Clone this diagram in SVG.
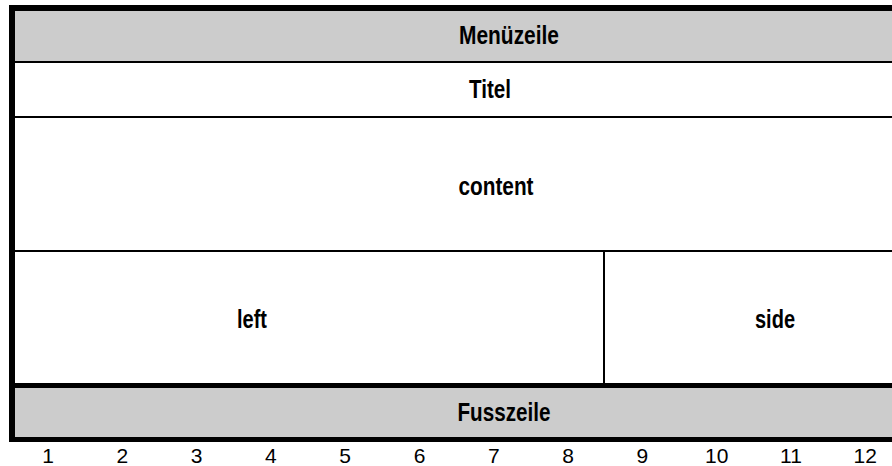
<svg xmlns="http://www.w3.org/2000/svg" width="892" height="466" viewBox="0 0 892 466">
<style>
.band{fill:#cccccc}
.cell{fill:#ffffff}
.rule{fill:#000000}
.lbl{font-family:"Liberation Sans",Arial,sans-serif;font-weight:bold;font-size:25px;fill:#000;text-anchor:middle}
.num{font-family:"Liberation Sans",Arial,sans-serif;font-size:21px;fill:#000;text-anchor:middle}
</style>
<rect x="0" y="0" width="892" height="466" fill="#ffffff"/>
<g id="menuezeile">
<rect class="band" x="15" y="11" width="877" height="50"/>
<text class="lbl" x="509" y="44" textLength="100" lengthAdjust="spacingAndGlyphs">Menüzeile</text>
</g>
<g id="titel">
<rect class="cell" x="15" y="63" width="877" height="53"/>
<text class="lbl" x="490" y="98" textLength="42" lengthAdjust="spacingAndGlyphs">Titel</text>
</g>
<g id="content">
<rect class="cell" x="15" y="118" width="877" height="132"/>
<text class="lbl" x="496" y="195" textLength="75" lengthAdjust="spacingAndGlyphs">content</text>
</g>
<g id="left">
<rect class="cell" x="15" y="252" width="589" height="131"/>
<text class="lbl" x="252" y="328" textLength="30" lengthAdjust="spacingAndGlyphs">left</text>
</g>
<g id="side">
<rect class="cell" x="606" y="252" width="286" height="131"/>
<text class="lbl" x="775" y="328" textLength="40" lengthAdjust="spacingAndGlyphs">side</text>
</g>
<g id="fusszeile">
<rect class="band" x="15" y="388" width="877" height="49"/>
<text class="lbl" x="504" y="421" textLength="93" lengthAdjust="spacingAndGlyphs">Fusszeile</text>
</g>
<g id="rules">
<rect class="rule" x="9" y="5" width="883" height="6"/>
<rect class="rule" x="9" y="5" width="6" height="437"/>
<rect class="rule" x="15" y="61" width="877" height="2"/>
<rect class="rule" x="15" y="116" width="877" height="2"/>
<rect class="rule" x="15" y="250" width="877" height="2"/>
<rect class="rule" x="603" y="252" width="2" height="131"/>
<rect class="rule" x="15" y="383" width="877" height="5"/>
<rect class="rule" x="9" y="437" width="883" height="5"/>
</g>
<g id="columns">
<text class="num" x="48" y="463">1</text>
<text class="num" x="122.3" y="463">2</text>
<text class="num" x="196.6" y="463">3</text>
<text class="num" x="270.9" y="463">4</text>
<text class="num" x="345.2" y="463">5</text>
<text class="num" x="419.5" y="463">6</text>
<text class="num" x="493.8" y="463">7</text>
<text class="num" x="568.1" y="463">8</text>
<text class="num" x="642.4" y="463">9</text>
<text class="num" x="716.7" y="463">10</text>
<text class="num" x="791" y="463">11</text>
<text class="num" x="865.3" y="463">12</text>
</g>
</svg>
